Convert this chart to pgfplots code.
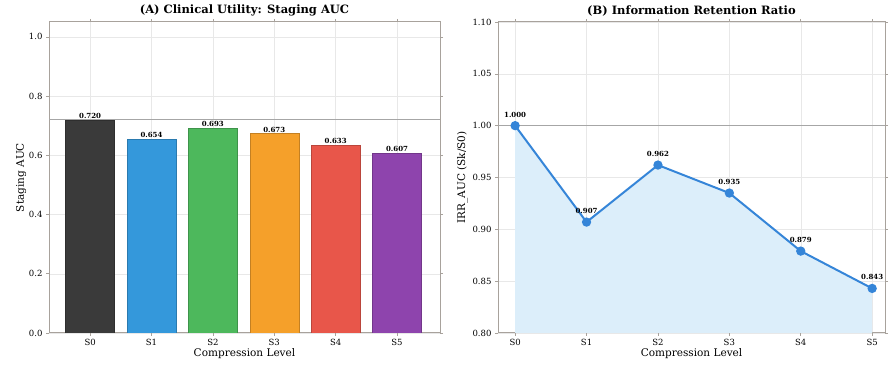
\documentclass[border=0pt]{standalone}
\usepackage{fontspec}
\setmainfont{DejaVu Serif}
\usepackage{pgfplots}
\pgfplotsset{compat=1.18}
\definecolor{cS0}{HTML}{3A3A3A}
\definecolor{cS1}{HTML}{3498DB}
\definecolor{cS2}{HTML}{4DB85C}
\definecolor{cS3}{HTML}{F5A02A}
\definecolor{cS4}{HTML}{E8564A}
\definecolor{cS5}{HTML}{8E44AD}
\definecolor{lineblue}{HTML}{3585D8}
\definecolor{fillblue}{HTML}{DCEEFA}
\definecolor{spine}{HTML}{A8A29C}
\pgfplotsset{
  mystyle/.style={
    scale only axis,
    anchor=south west,
    axis line style={spine, line width=1pt},
    grid=major,
    major grid style={gray!18, line width=0.5pt},
    tick style={spine, line width=0.6pt},
    tick align=outside,
    major tick length=3pt,
    ticklabel style={font=\fontsize{8.5}{9}\selectfont},
    label style={font=\fontsize{10.5}{11}\selectfont},
    title style={font=\bfseries\fontsize{11.5}{12}\selectfont, yshift=-4pt},
    /pgf/number format/assume math mode=true,
    xtick={0,1,2,3,4,5},
    xticklabels={S0,S1,S2,S3,S4,S5},
    xlabel={Compression Level},
    xlabel style={yshift=4pt},
    axis on top=false,
  }
}
\begin{document}
\begin{tikzpicture}[x=1pt,y=1pt]
\path[use as bounding box] (0,0) rectangle (890,371);
\begin{axis}[mystyle,
  at={(49pt,38pt)}, width=391pt, height=311pt,
  xmin=-0.67, xmax=5.7, ymin=0, ymax=1.05,
  ytick={0,0.2,0.4,0.6,0.8,1.0},
  yticklabel style={/pgf/number format/.cd, fixed, fixed zerofill, precision=1},
  ylabel={Staging AUC},
  ylabel style={yshift=-4pt},
  title={(A) Clinical Utility: Staging AUC},
  nodes near coords,
  point meta=explicit symbolic,
  every node near coord/.append style={font=\bfseries\fontsize{7}{7}\selectfont, black, yshift=-2pt},
]
\addplot[ybar, bar width=0.8, bar shift=0pt, fill=cS0, draw=cS0!80!black] coordinates {(0,0.720) [0.720]};
\addplot[ybar, bar width=0.8, bar shift=0pt, fill=cS1, draw=cS1!80!black] coordinates {(1,0.654) [0.654]};
\addplot[ybar, bar width=0.8, bar shift=0pt, fill=cS2, draw=cS2!80!black] coordinates {(2,0.693) [0.693]};
\addplot[ybar, bar width=0.8, bar shift=0pt, fill=cS3, draw=cS3!80!black] coordinates {(3,0.673) [0.673]};
\addplot[ybar, bar width=0.8, bar shift=0pt, fill=cS4, draw=cS4!80!black] coordinates {(4,0.633) [0.633]};
\addplot[ybar, bar width=0.8, bar shift=0pt, fill=cS5, draw=cS5!80!black] coordinates {(5,0.607) [0.607]};
\addplot[gray!70, line width=0.8pt, nodes near coords={}, forget plot] coordinates {(-0.67,0.720) (5.7,0.720)};
\end{axis}
\begin{axis}[mystyle,
  at={(498pt,38pt)}, width=387pt, height=311pt,
  xmin=-0.24, xmax=5.18, ymin=0.80, ymax=1.10,
  ytick={0.80,0.85,0.90,0.95,1.00,1.05,1.10},
  yticklabel style={/pgf/number format/.cd, fixed, fixed zerofill, precision=2},
  ylabel={IRR\_AUC (Sk/S0)},
  ylabel style={yshift=-2pt},
  title={(B) Information Retention Ratio},
]
\addplot[fill=fillblue, draw=none] coordinates {(0,1.000) (1,0.907) (2,0.962) (3,0.935) (4,0.879) (5,0.843)} \closedcycle;
\addplot[gray!70, line width=0.8pt] coordinates {(-0.24,1.0) (5.18,1.0)};
\addplot[lineblue, line width=2pt, mark=*, mark size=3.6pt, mark options={fill=lineblue, draw=lineblue},
  nodes near coords, point meta=explicit symbolic,
  every node near coord/.append style={font=\bfseries\fontsize{7}{7}\selectfont, black, yshift=4pt}]
  coordinates {(0,1.000) [1.000] (1,0.907) [0.907] (2,0.962) [0.962] (3,0.935) [0.935] (4,0.879) [0.879] (5,0.843) [0.843]};
\end{axis}
\end{tikzpicture}
\end{document}
